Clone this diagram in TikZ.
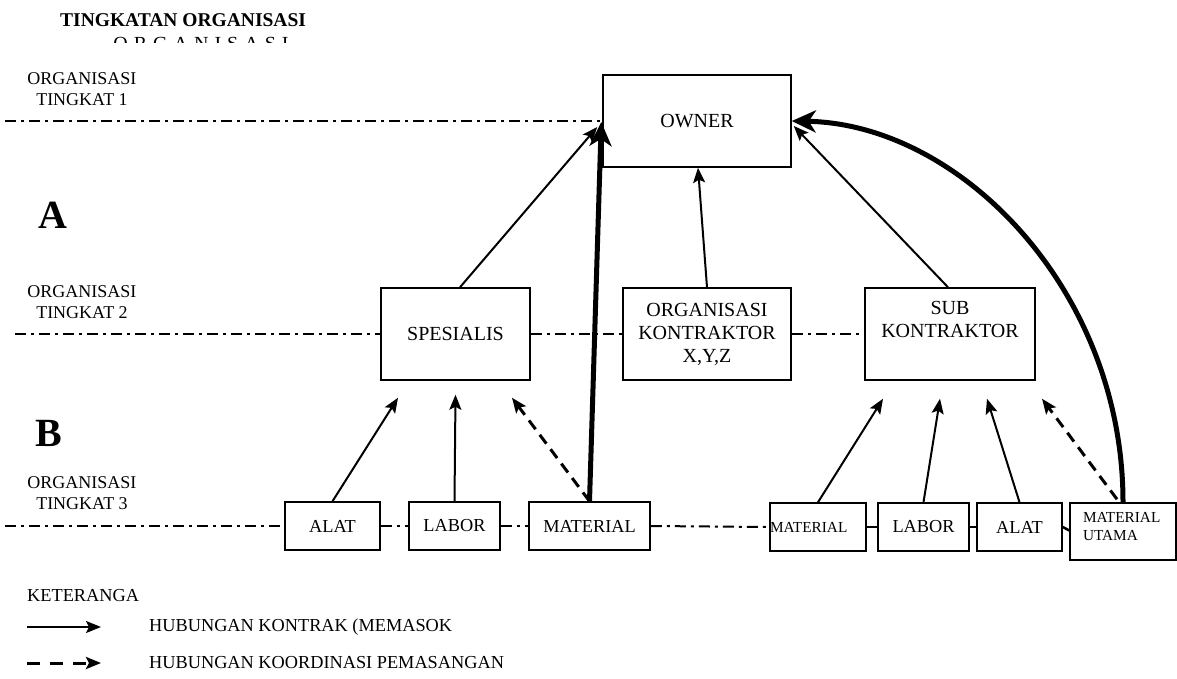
\documentclass[tikz,border=0pt]{standalone}
\usepackage{fontspec}
\setmainfont{Liberation Serif}
\usetikzlibrary{arrows.meta,calc}

\begin{document}
\begin{tikzpicture}[x=1pt,y=-1pt,
  box/.style={draw,line width=1.5pt,fill=white,inner sep=0pt,align=center,
    font=\fontsize{20}{23}\selectfont},
  sbox/.style={box,font=\fontsize{18.3}{20}\selectfont},
  tbox/.style={box,font=\fontsize{15.3}{18}\selectfont},
  lvl/.style={align=center,inner sep=0pt,font=\fontsize{18}{20.5}\selectfont},
  zone/.style={inner sep=0pt,font=\fontsize{40}{40}\selectfont\bfseries},
  level/.style={line width=2pt,dash pattern=on 11pt off 5pt on 3pt off 5pt},
  link/.style={line width=2.5pt},
  contract/.style={line width=2pt,-{Stealth[length=15pt,width=12pt,inset=3pt]}},
  coordination/.style={line width=3pt,dash pattern=on 11pt off 7pt,
    -{Stealth[length=15pt,width=12pt,inset=3pt]}},
  heavy/.style={line width=5pt,-{Stealth[length=24pt,width=22pt,inset=7pt]}},
  legendtext/.style={anchor=west,inner sep=0pt,font=\fontsize{18.3}{20}\selectfont},
]
\useasboundingbox (0,0) rectangle (1177,679);

% heading
\node[anchor=base west,inner sep=0pt,font=\fontsize{19.5}{22}\selectfont\bfseries]
  (title) at (60,26.5) {TINGKATAN ORGANISASI};
\begin{scope}
  \clip (90,30) rectangle (330,43);
  \node[anchor=base,inner sep=0pt,font=\fontsize{20}{22}\selectfont\addfontfeature{LetterSpace=30}]
    (titleb) at (201,50.5) {ORGANISASI};
\end{scope}

% level labels
\node[lvl] (lv1) at (82,89) {ORGANISASI\\TINGKAT 1};
\node[lvl] (lv2) at (82,302) {ORGANISASI\\TINGKAT 2};
\node[lvl] (lv3) at (82,493) {ORGANISASI\\TINGKAT 3};
\node[zone] (za) at (53,215) {A};
\node[zone] (zb) at (49,433) {B};

% free ends of the level lines
\coordinate (r1) at (5,121);
\coordinate (r2) at (15,334);
\coordinate (r3) at (5,526);

% boxes
\node[box,minimum width=188pt,minimum height=92pt] (owner) at (697,121) {OWNER};
\node[box,minimum width=149pt,minimum height=92pt] (spes) at (455.5,334) {SPESIALIS};
\node[box,minimum width=168pt,minimum height=92pt] (kontr) at (707,334)
  {ORGANISASI\\KONTRAKTOR\\X,Y,Z};
\node[box,minimum width=170pt,minimum height=92pt] (sub) at (950,334)
  {SUB\\KONTRAKTOR\\\strut};

\node[sbox,minimum width=95pt,minimum height=48pt] (alat1) at (332.5,526) {ALAT};
\node[sbox,minimum width=91pt,minimum height=48pt] (labor1) at (454.5,526) {LABOR};
\node[sbox,minimum width=121pt,minimum height=48pt] (mat1) at (589.5,526) {MATERIAL};

\node[tbox,text width=96pt,align=left,minimum height=48pt] (mat2) at (818,527) {MATERIAL};
\node[sbox,minimum width=91pt,minimum height=48pt] (labor2) at (923.5,527) {LABOR};
\node[sbox,minimum width=85pt,minimum height=48pt] (alat2) at (1019.5,527) {ALAT};
\node[tbox,text width=80pt,inner xsep=13pt,align=left,minimum height=57pt,
  text depth=29pt] (matu) at (1123,531.5) {MATERIAL\\UTAMA};

% level lines
\draw[level] (r1) -- (owner.west);
\draw[level] (r2) -- (spes.west);
\draw[level] (spes.east) -- (kontr.west);
\draw[level] (kontr.east) -- (sub.west);
\draw[level] (r3) -- (alat1.west);
\draw[level] (alat1.east) -- (labor1.west);
\draw[level] (labor1.east) -- (mat1.west);
\draw[level] (mat1.east) -- (mat2.west);
\draw[link] (mat2.east) -- (labor2.west);
\draw[link] (labor2.east) -- (alat2.west);
\draw[link] (alat2.east) -- ($(matu.west)+(0,-1)$);

% contract relations to the owner
\draw[contract] ($(spes.north)+(4.5,0)$) -- ($(owner.west)+(-5,6)$);
\draw[contract] (kontr.north) -- ($(owner.south)+(1,0)$);
\draw[contract] ($(sub.north)+(-2,0)$) -- ($(owner.east)+(2,5)$);
\draw[heavy] (mat1.north) -- ($(owner.west)+(-1,1)$);
\draw[heavy] (matu.north) .. controls (1123,290) and (960,124) .. (owner.east);

% supply relations to the specialist
\draw[contract] (alat1.north) -- ($(spes.south)+(-57.5,17)$);
\draw[contract] (labor1.north) -- ($(spes.south)+(0,14)$);
\draw[coordination] (mat1.north) -- ($(spes.south)+(56.5,17)$);

% supply relations to the subcontractor
\draw[contract] (mat2.north) -- ($(sub.south)+(-67,18)$);
\draw[contract] (labor2.north) -- ($(sub.south)+(-10,18)$);
\draw[contract] (alat2.north) -- ($(sub.south)+(37,18)$);
\draw[coordination] ($(matu.north)+(-6,-3)$) -- ($(sub.south)+(92,18)$);

% legend
\node[legendtext] (ket) at (27,596) {KETERANGA};
\coordinate (la) at (27,627);
\coordinate (lb) at (101,627);
\coordinate (lc) at (27,663);
\coordinate (ld) at (101,663);
\draw[contract] (la) -- (lb);
\draw[line width=3pt,dash pattern=on 13pt off 10pt,-{Stealth[length=15pt,width=12pt,inset=3pt]}] (lc) -- (ld);
\node[legendtext] (lt1) at (149,627) {HUBUNGAN KONTRAK (MEMASOK};
\node[legendtext] (lt2) at (149,663) {HUBUNGAN KOORDINASI PEMASANGAN};
\end{tikzpicture}
\end{document}
